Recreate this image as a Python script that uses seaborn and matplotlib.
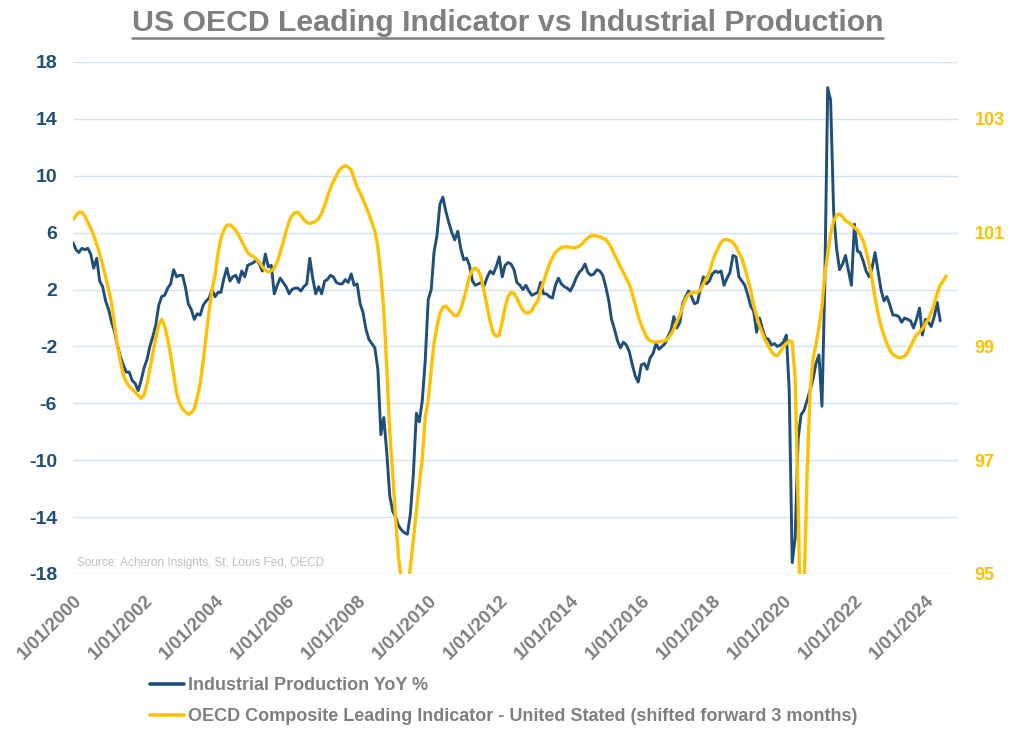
import numpy as np
import pandas as pd
import matplotlib
matplotlib.use("Agg")
import matplotlib.pyplot as plt
from matplotlib.lines import Line2D
import seaborn as sns

# ---------------- data ----------------
series_start = "2000-01-01"

# Industrial Production YoY % (left axis), monthly from Jan 2000
ip_yoy = [
    5.3, 4.8, 4.6, 4.9, 4.8, 4.9, 4.5, 3.5, 4.2, 2.6, 2.2, 1.2,
    0.6, -0.3, -0.9, -1.9, -2.7, -3.3, -3.8, -3.8, -4.4, -4.6, -5.1, -4.4,
    -3.5, -2.9, -2.0, -1.3, -0.5, 0.9, 1.5, 1.6, 2.1, 2.4, 3.4, 2.9,
    3.0, 3.0, 2.2, 1.0, 0.6, -0.1, 0.3, 0.2, 0.9, 1.2, 1.4, 2.0,
    1.5, 1.8, 1.8, 2.8, 3.5, 2.6, 2.9, 3.0, 2.5, 3.3, 2.9, 3.7,
    3.8, 3.9, 4.1, 3.8, 3.3, 4.5, 3.6, 3.7, 1.7, 2.3, 2.8, 2.5,
    2.2, 1.7, 2.0, 2.1, 2.1, 1.9, 2.2, 2.4, 4.2, 2.8, 1.7, 2.2,
    1.7, 2.6, 2.7, 3.0, 2.9, 2.5, 2.4, 2.4, 2.7, 2.5, 3.1, 2.3,
    2.4, 1.0, 0.4, -0.8, -1.5, -1.8, -2.1, -3.6, -8.2, -7.0, -9.5, -12.5,
    -13.6, -14.0, -14.6, -14.9, -15.1, -15.2, -13.8, -11.0, -6.7, -7.3, -5.8, -3.0,
    1.3, 2.0, 4.6, 5.8, 8.0, 8.5, 7.5, 6.7, 6.0, 5.5, 6.1, 4.9,
    4.1, 4.2, 3.7, 2.6, 2.3, 2.4, 2.5, 2.3, 2.9, 3.3, 3.1, 3.6,
    4.3, 2.9, 3.7, 3.9, 3.8, 3.4, 2.5, 2.3, 2.0, 2.3, 1.9, 1.6,
    1.7, 1.8, 2.5, 1.7, 1.7, 1.5, 1.4, 2.3, 2.8, 2.4, 2.2, 2.1,
    1.9, 2.3, 2.8, 3.2, 3.4, 3.8, 3.2, 3.0, 3.1, 3.4, 3.3, 3.0,
    2.2, 1.2, -0.1, -0.8, -1.6, -2.1, -1.7, -1.9, -2.4, -3.3, -4.1, -4.5,
    -3.3, -3.2, -3.6, -2.8, -2.5, -1.8, -2.2, -2.0, -1.8, -1.3, -0.9, 0.1,
    -0.7, -0.3, 1.0, 1.5, 1.9, 1.5, 1.0, 1.1, 2.1, 2.9, 2.4, 2.6,
    3.1, 3.3, 3.2, 3.3, 2.3, 2.8, 3.2, 4.4, 4.3, 2.9, 2.6, 2.3,
    1.6, 0.8, 0.5, -1.0, 0.0, -0.8, -1.4, -1.5, -1.9, -1.8, -2.0, -1.9,
    -1.7, -1.2, -5.0, -17.2, -15.5, -8.5, -6.8, -6.5, -5.8, -5.1, -4.3, -3.2,
    -2.6, -6.2, 2.0, 16.2, 15.3, 7.5, 4.9, 3.4, 3.8, 4.4, 3.3, 2.3,
    6.6, 4.7, 4.6, 4.0, 3.3, 2.9, 3.5, 4.6, 3.3, 2.0, 1.2, 1.5,
    0.9, 0.2, 0.2, 0.1, -0.3, 0.0, -0.1, -0.2, -0.7, -0.1, 0.7, -1.2,
    -0.1, -0.3, -0.6, 0.1, 1.1, -0.2,
]

# OECD Composite Leading Indicator (right axis), monthly from Jan 2000
cli_values = [
    101.23, 101.30, 101.36, 101.36, 101.30, 101.18, 101.08, 100.95, 100.80, 100.63, 100.43, 100.23,
    100.00, 99.75, 99.40, 99.03, 98.75, 98.50, 98.38, 98.30, 98.25, 98.20, 98.14, 98.09,
    98.15, 98.35, 98.60, 98.88, 99.15, 99.38, 99.48, 99.35, 99.13, 98.85, 98.50, 98.18,
    98.00, 97.90, 97.85, 97.81, 97.83, 97.90, 98.10, 98.35, 98.75, 99.18, 99.63, 100.00,
    100.25, 100.65, 100.90, 101.05, 101.13, 101.14, 101.10, 101.04, 100.95, 100.85, 100.75, 100.65,
    100.60, 100.58, 100.53, 100.48, 100.40, 100.34, 100.31, 100.33, 100.38, 100.48, 100.65, 100.83,
    101.03, 101.20, 101.30, 101.35, 101.36, 101.30, 101.23, 101.18, 101.16, 101.18, 101.20, 101.25,
    101.34, 101.48, 101.63, 101.78, 101.90, 102.00, 102.10, 102.15, 102.18, 102.15, 102.10, 101.95,
    101.80, 101.70, 101.58, 101.45, 101.33, 101.18, 101.03, 100.75, 100.25, 99.63, 98.63, 97.50,
    96.75, 95.93, 95.30, 94.88, 94.50, 94.63, 95.13, 95.60, 96.10, 96.58, 97.03, 97.75,
    98.05, 98.60, 99.05, 99.35, 99.58, 99.69, 99.71, 99.65, 99.59, 99.54, 99.55, 99.65,
    99.83, 100.03, 100.23, 100.35, 100.38, 100.33, 100.20, 99.95, 99.68, 99.43, 99.23, 99.18,
    99.20, 99.43, 99.68, 99.88, 99.95, 99.93, 99.85, 99.73, 99.64, 99.59, 99.59, 99.63,
    99.73, 99.80, 99.98, 100.13, 100.30, 100.45, 100.56, 100.65, 100.70, 100.74, 100.75, 100.75,
    100.74, 100.73, 100.74, 100.76, 100.80, 100.86, 100.91, 100.94, 100.95, 100.94, 100.93, 100.90,
    100.88, 100.81, 100.73, 100.61, 100.51, 100.40, 100.30, 100.20, 100.09, 99.93, 99.73, 99.53,
    99.38, 99.25, 99.15, 99.10, 99.08, 99.08, 99.08, 99.09, 99.10, 99.14, 99.21, 99.30,
    99.44, 99.55, 99.70, 99.84, 99.91, 99.94, 99.95, 99.95, 100.00, 100.10, 100.20, 100.30,
    100.49, 100.63, 100.73, 100.83, 100.88, 100.88, 100.86, 100.83, 100.75, 100.65, 100.54, 100.38,
    100.18, 99.98, 99.73, 99.53, 99.36, 99.23, 99.10, 99.00, 98.91, 98.85, 98.84, 98.90,
    99.00, 99.05, 99.10, 99.08, 98.45, 96.25, 93.50, 94.75, 96.75, 98.20, 98.78, 99.03,
    99.33, 99.70, 100.25, 100.63, 100.98, 101.20, 101.31, 101.33, 101.28, 101.21, 101.18, 101.14,
    101.09, 101.04, 100.96, 100.86, 100.68, 100.45, 100.18, 99.85, 99.58, 99.36, 99.19, 99.05,
    98.93, 98.86, 98.83, 98.80, 98.81, 98.83, 98.89, 99.00, 99.11, 99.20, 99.26, 99.31,
    99.40, 99.48, 99.60, 99.75, 99.93, 100.08, 100.15, 100.24,
]

left_ticks = [-18, -14, -10, -6, -2, 2, 6, 10, 14, 18]
right_ticks = [95, 97, 99, 101, 103]
tick_years = list(range(2000, 2025, 2))
tick_labels = [f"1/01/{y}" for y in tick_years]

title_text = "US OECD Leading Indicator vs Industrial Production"
ip_label = "Industrial Production YoY %"
cli_label = "OECD Composite Leading Indicator - United Stated (shifted forward 3 months)"
source_text = "Source: Acheron Insights, St, Louis Fed, OECD"

# ---------------- styling ----------------
sns.set_theme(style="white")
plt.rcParams["font.family"] = ["Liberation Sans", "DejaVu Sans"]

BLUE = "#1f4e79"
GOLD = "#ffc000"
GRAY = "#7f7f7f"
GRID = "#d5e2f2"

df_ip = pd.DataFrame({"date": pd.date_range(series_start, periods=len(ip_yoy), freq="MS"),
                      "value": ip_yoy})
df_cli = pd.DataFrame({"date": pd.date_range(series_start, periods=len(cli_values), freq="MS"),
                       "value": cli_values})

W, H = 1015, 735
fig = plt.figure(figsize=(W / 100, H / 100), dpi=100)
L, R, T, B = 73, 958, 62, 574
ax = fig.add_axes([L / W, 1 - B / H, (R - L) / W, (B - T) / H])
ax2 = ax.twinx()

sns.lineplot(data=df_ip, x="date", y="value", ax=ax, color=BLUE, linewidth=2.1, legend=False)
sns.lineplot(data=df_cli, x="date", y="value", ax=ax2, color=GOLD, linewidth=2.4, legend=False)

ax.set_xlim(pd.Timestamp("2000-01-01"), pd.Timestamp("2024-12-01"))
ax.set_ylim(-18, 18)
ax2.set_ylim(95, 104)

ax.set_yticks(left_ticks)
ax.set_yticklabels([str(t) for t in left_ticks])
ax2.set_yticks(right_ticks)
ax2.set_yticklabels([str(t) for t in right_ticks])

ax.set_xticks(pd.to_datetime([f"{y}-01-01" for y in tick_years]))
ax.set_xticklabels(tick_labels, rotation=45, ha="right", va="top", rotation_mode="anchor")

ax.set_xlabel("")
ax.set_ylabel("")
ax2.set_ylabel("")

ax.tick_params(axis="x", length=0, pad=13, labelsize=13.5, labelcolor=GRAY)
ax.tick_params(axis="y", length=0, pad=11.5, labelsize=14, labelcolor=BLUE)
ax2.tick_params(axis="y", length=0, pad=12, labelsize=13, labelcolor=GOLD)
for lbl in ax.get_xticklabels() + ax.get_yticklabels() + ax2.get_yticklabels():
    lbl.set_fontweight("bold")

ax.yaxis.grid(True, color=GRID, linewidth=1.0)
ax.xaxis.grid(False)
ax2.grid(False)
for a in (ax, ax2):
    for s in a.spines.values():
        s.set_visible(False)

# source note
fig.text(77 / W, 1 - 563 / H, source_text, fontsize=8.5, color="#bfbfbf", va="center", ha="left")

# title with underline
title = fig.text(0.5, 1 - 23 / H, title_text, fontsize=21.8, fontweight="bold",
                 color=GRAY, ha="center", va="center")
fig.canvas.draw()
bb = title.get_window_extent()
inv = fig.transFigure.inverted()
(x0, y0), (x1, y1) = inv.transform([(bb.x0, bb.y0 - 1), (bb.x1, bb.y0 - 1)])
fig.add_artist(Line2D([x0, x1], [y0, y1], transform=fig.transFigure, color=GRAY, linewidth=1.8))

# legend
handles = [Line2D([], [], color=BLUE, linewidth=2.6), Line2D([], [], color=GOLD, linewidth=2.6)]
fig.legend(handles, [ip_label, cli_label], loc="upper left",
           bbox_to_anchor=(150 / W, 1 - 677 / H), frameon=False,
           prop={"weight": "bold", "size": 13.0}, labelcolor=GRAY,
           handlelength=1.9, handletextpad=0.2, labelspacing=0.8, borderaxespad=0, borderpad=0)

fig.savefig("out.png", dpi=100)
